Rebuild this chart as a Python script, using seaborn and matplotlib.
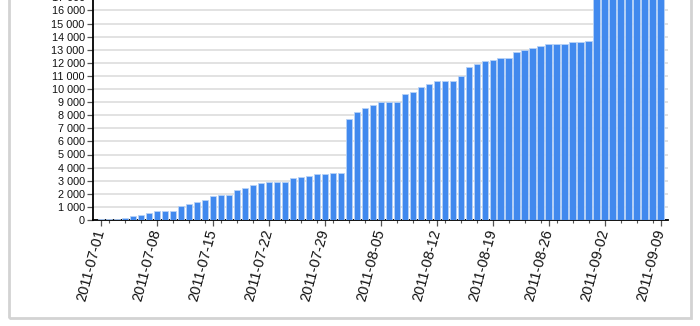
import matplotlib
matplotlib.use("Agg")
import matplotlib.pyplot as plt
from matplotlib.patches import Rectangle
from matplotlib.ticker import FuncFormatter, MultipleLocator, FixedLocator
import seaborn as sns
import pandas as pd

# ---- data ----
dates = pd.date_range("2011-07-01", "2011-09-09").strftime("%Y-%m-%d").tolist()
values = [
    40, 40, 40, 150, 270, 390, 520, 670, 680, 700,
    1060, 1220, 1340, 1490, 1840, 1880, 1900, 2290, 2420, 2680,
    2800, 2920, 2920, 2930, 3180, 3290, 3390, 3510, 3540, 3560, 3590,
    7720, 8230, 8540, 8770, 9000, 9030, 9030, 9590, 9770, 10180,
    10380, 10620, 10640, 10640, 11000, 11650, 11910, 12100, 12250, 12380,
    12380, 12800, 12950, 13100, 13250, 13400, 13400, 13400, 13550, 13620, 13670,
    18400, 18500, 18600, 18700, 18800, 18900, 19000, 19100, 19200,
]
tick_dates = dates[::7]

sns.set_theme(style="white")
plt.rcParams["font.family"] = ["Liberation Sans", "DejaVu Sans"]

fig = plt.figure(figsize=(7, 3.26), dpi=100)
ymax = 17800
px_per_unit = 13.1 / 1000
ax = fig.add_axes([93 / 700, 106 / 326, 575 / 700, ymax * px_per_unit / 326])

sns.barplot(x=dates, y=values, color="#4189ee", saturation=1, width=0.84,
            edgecolor="#b8d2f6", linewidth=0.6, ax=ax, zorder=3)

ax.set_ylim(0, ymax)
ax.set_xlim(-1, 70.9)
ax.yaxis.set_major_locator(MultipleLocator(1000))
ax.yaxis.set_major_formatter(FuncFormatter(lambda v, p: f"{int(v):,}".replace(",", " ")))
ax.grid(axis="y", color="#e2e2e2", lw=1.4, zorder=0)
ax.set_axisbelow(True)

major = list(range(0, len(dates), 7))
ax.xaxis.set_major_locator(FixedLocator(major))
ax.set_xticklabels(tick_dates, rotation=75, ha="right", va="center",
                   rotation_mode="anchor", fontsize=10.5, color="#111111")
minor = [i for i in range(1, len(dates), 2) if i not in major]
ax.xaxis.set_minor_locator(FixedLocator(minor))

for s in ["top", "right"]:
    ax.spines[s].set_visible(False)
for s in ["left", "bottom"]:
    ax.spines[s].set_color("black")
    ax.spines[s].set_linewidth(1.3)

ax.tick_params(axis="y", which="major", length=4, width=0.9, color="#555555",
               labelsize=7.8, labelcolor="#111111", pad=2, left=True)
ax.tick_params(axis="x", which="major", length=4, width=0.9, color="#555555",
               pad=3, bottom=True)
ax.tick_params(axis="x", which="minor", length=2.5, width=0.8, color="#555555", bottom=True)
ax.set_xlabel("")
ax.set_ylabel("")

fig.add_artist(Rectangle((8.5 / 700, 8 / 326), (691 - 8.5) / 700, 1.2,
                         transform=fig.transFigure, fill=False,
                         edgecolor="#d3d3d3", lw=2))

fig.savefig("out.png", dpi=100)
